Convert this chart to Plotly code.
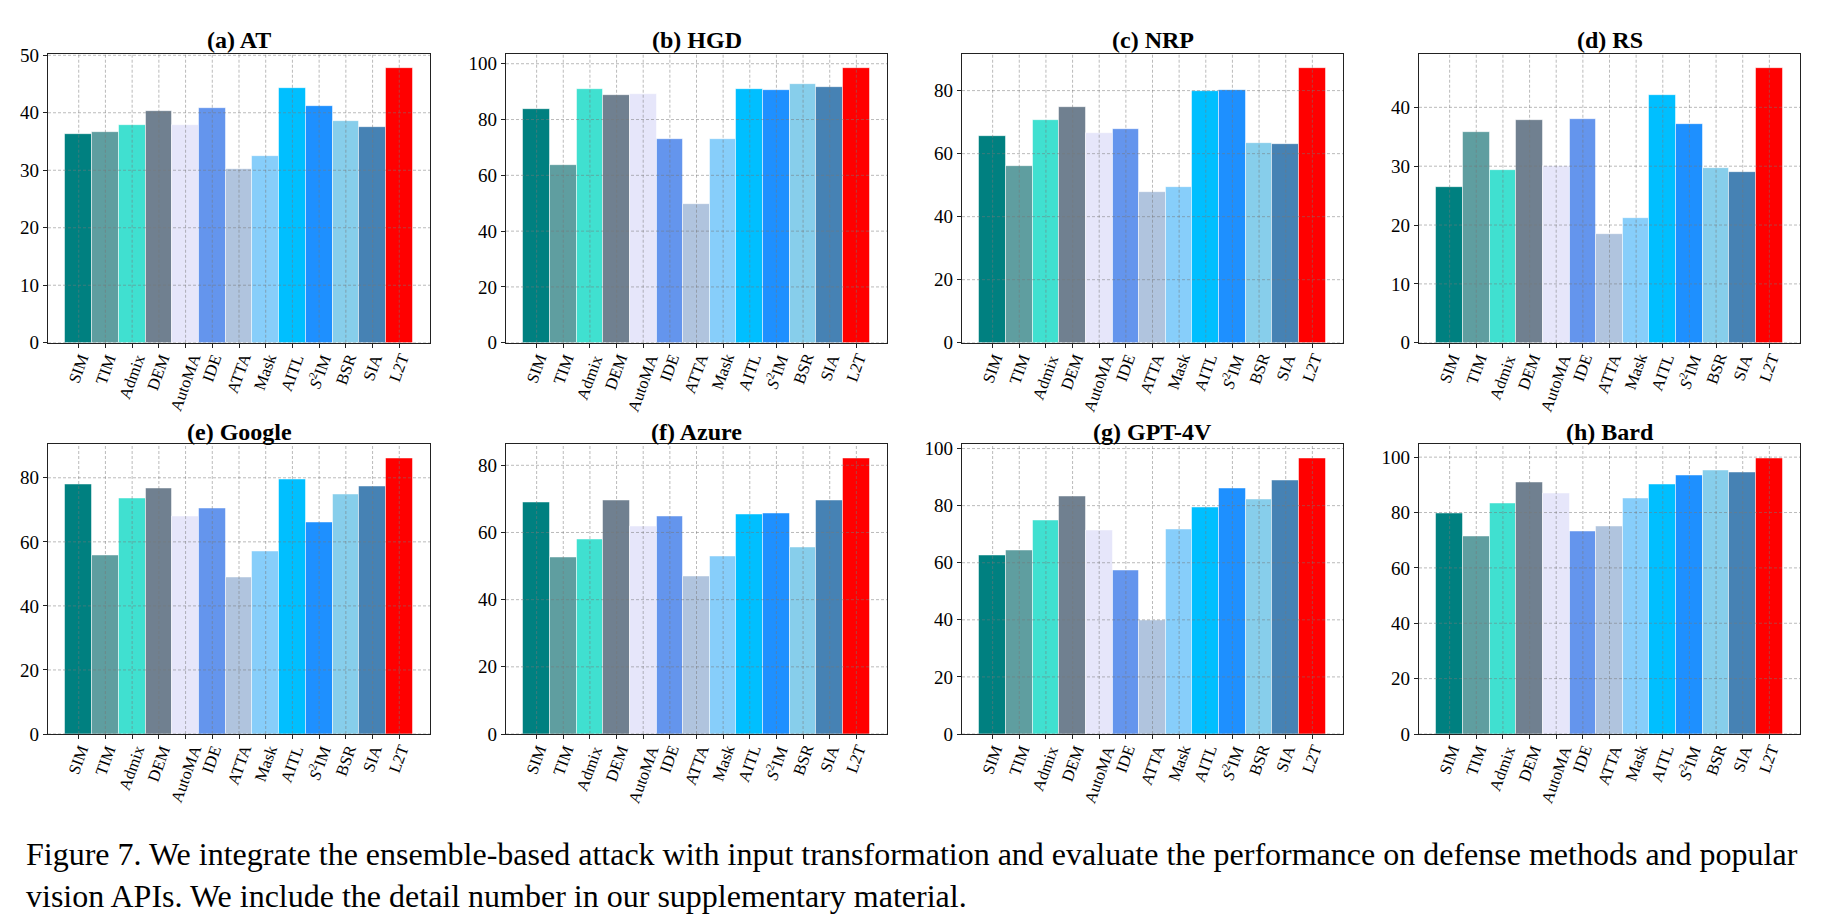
import plotly.graph_objects as go

# ---------------- data ----------------
methods = ["SIM", "TIM", "Admix", "DEM", "AutoMA", "IDE", "ATTA", "Mask",
           "AITL", "S2IM", "BSR", "SIA", "L2T"]
method_labels = ["SIM", "TIM", "Admix", "DEM", "AutoMA", "IDE", "ATTA", "Mask",
                 "AITL", "<i>S</i><sup>2</sup>IM", "BSR", "SIA", "L2T"]
bar_colors = ["#008080", "#5F9EA0", "#40E0D0", "#708090", "#E6E6FA", "#6495ED",
              "#B0C4DE", "#87CEFA", "#00BFFF", "#1E90FF", "#87CEEB", "#4682B4",
              "#FF0000"]

at_vals     = [36.2, 36.6, 37.8, 40.2, 37.8, 40.8, 30.2, 32.5, 44.3, 41.1, 38.6, 37.5, 47.8]
hgd_vals    = [83.6, 63.8, 91.0, 88.8, 89.0, 73.1, 49.8, 72.8, 91.0, 90.6, 92.5, 91.5, 98.5]
nrp_vals    = [65.7, 55.9, 70.7, 74.9, 66.4, 67.9, 47.7, 49.5, 79.8, 80.0, 63.3, 63.1, 87.2]
rs_vals     = [26.4, 35.7, 29.4, 37.8, 30.0, 38.0, 18.4, 21.1, 42.1, 37.1, 29.7, 28.9, 46.7]
google_vals = [77.9, 55.8, 73.5, 76.6, 67.9, 70.5, 48.9, 56.9, 79.5, 65.9, 74.7, 77.3, 86.1]
azure_vals  = [69.0, 52.7, 57.8, 69.4, 61.7, 64.7, 47.0, 52.8, 65.4, 65.7, 55.6, 69.5, 82.1]
gpt4v_vals  = [62.7, 64.4, 74.9, 83.2, 71.2, 57.4, 39.7, 71.6, 79.4, 86.0, 82.1, 88.8, 96.6]
bard_vals   = [79.7, 71.5, 83.3, 90.8, 86.8, 73.0, 75.1, 84.9, 90.0, 93.5, 95.3, 94.3, 99.6]

panel_titles = ["(a) AT", "(b) HGD", "(c) NRP", "(d) RS",
                "(e) Google", "(f) Azure", "(g) GPT-4V", "(h) Bard"]
panel_values = [at_vals, hgd_vals, nrp_vals, rs_vals,
                google_vals, azure_vals, gpt4v_vals, bard_vals]
panel_yticks = [[0, 10, 20, 30, 40, 50], [0, 20, 40, 60, 80, 100],
                [0, 20, 40, 60, 80], [0, 10, 20, 30, 40],
                [0, 20, 40, 60, 80], [0, 20, 40, 60, 80],
                [0, 20, 40, 60, 80, 100], [0, 20, 40, 60, 80, 100]]

caption = ("Figure 7. We integrate the ensemble-based attack with input transformation "
           "and evaluate the performance on defense methods and popular<br>"
           "vision APIs. We include the detail number in our supplementary material.")

# ---------------- layout geometry (pixels) ----------------
W, H = 1829, 917
col_x = [(40, 422), (498, 879), (954, 1335), (1411, 1792)]
row_y = [(38, 333), (437, 733)]
title_y = [24, 424]

SERIF = "Liberation Serif, Times New Roman, serif"
GRID = "rgba(120,120,120,0.5)"
SPINE = "#222222"

fig = go.Figure()
shapes = []
annotations = []
n = len(methods)
xpos = list(range(n))

for k in range(8):
    r, c = divmod(k, 4)
    ax = "" if k == 0 else str(k + 1)
    vals = panel_values[k]
    fig.add_trace(go.Bar(
        x=xpos, y=vals, width=1.0,
        marker=dict(color=bar_colors, line=dict(color="rgba(255,255,255,0.5)", width=1)),
        xaxis="x" + ax, yaxis="y" + ax, showlegend=False,
        hovertext=methods,
    ))
    x0, x1 = col_x[c]
    y0, y1 = row_y[r]
    ymax = max(vals) * 1.05
    fig.layout["xaxis" + ax] = dict(
        domain=[x0 / W, x1 / W], anchor="y" + ax,
        range=[-1.15, n - 1 + 1.15], tickvals=xpos, showticklabels=False,
        showgrid=False, zeroline=False, showline=True, mirror=True,
        linecolor=SPINE, linewidth=1.3, ticks="outside", ticklen=4,
        tickcolor=SPINE, tickwidth=1,
    )
    fig.layout["yaxis" + ax] = dict(
        domain=[1 - y1 / H, 1 - y0 / H], anchor="x" + ax,
        range=[0, ymax], tickvals=panel_yticks[k],
        showgrid=False, zeroline=False, showline=True, mirror=True,
        linecolor=SPINE, linewidth=1.3, ticks="outside", ticklen=4,
        tickcolor=SPINE, tickwidth=1,
        tickfont=dict(family=SERIF, size=19, color="black"),
    )
    xr = "x" + ax
    yr = "y" + ax
    # grid lines drawn above bars (as in the reference)
    for t in panel_yticks[k]:
        shapes.append(dict(type="line", xref=xr + " domain", x0=0, x1=1,
                           yref=yr, y0=t, y1=t, layer="above",
                           line=dict(color=GRID, width=1, dash="3px,2px")))
    for i in xpos:
        shapes.append(dict(type="line", xref=xr, x0=i, x1=i,
                           yref=yr + " domain", y0=0, y1=1, layer="above",
                           line=dict(color=GRID, width=1, dash="3px,2px")))
    # rotated category labels, centred under each bar
    for i, lab in zip(xpos, method_labels):
        annotations.append(dict(
            x=i, xref=xr, y=0, yref=yr + " domain", yshift=-6,
            text=lab, showarrow=False, textangle=-70,
            xanchor="center", yanchor="top",
            font=dict(family=SERIF, size=16.5, color="black"),
        ))
    # panel title
    annotations.append(dict(
        x=(x0 + x1) / 2 / W, xref="paper", y=1 - title_y[r] / H, yref="paper",
        text="<b>" + panel_titles[k] + "</b>", showarrow=False,
        xanchor="center", yanchor="middle",
        font=dict(family=SERIF, size=24, color="black"),
    ))

annotations.append(dict(
    x=16 / W, xref="paper", y=1 - 835 / H, yref="paper",
    text=caption, showarrow=False, xanchor="left", yanchor="top", align="left",
    font=dict(family=SERIF, size=32, color="black"),
))

fig.update_layout(
    width=W, height=H, autosize=False,
    margin=dict(l=0, r=0, t=0, b=0),
    paper_bgcolor="white", plot_bgcolor="white",
    bargap=0, shapes=shapes, annotations=annotations,
)

fig.write_html("out.html")
